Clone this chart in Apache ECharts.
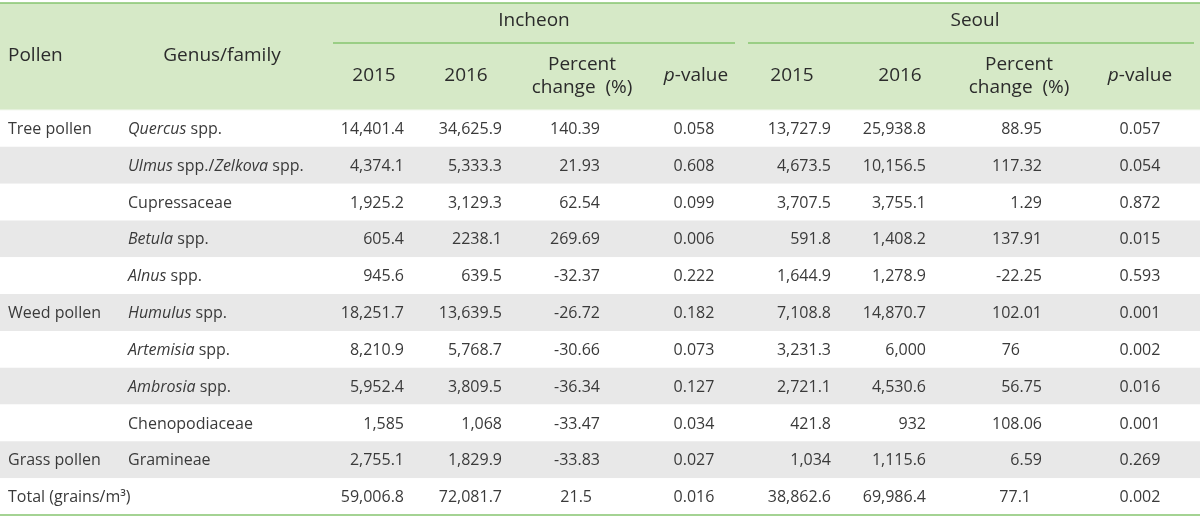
<!DOCTYPE html>
<html><head><meta charset="utf-8">
<script src="https://cdn.jsdelivr.net/npm/echarts@6/dist/echarts.min.js"></script>
<style>html,body{margin:0;padding:0;background:#fff}#c{width:1200px;height:519px}</style>
</head><body><div id="c"></div>
<script>
// ---- data ----
const pollenGroups = ['Tree pollen','','','','','Weed pollen','','','','Grass pollen','Total (grains/m³)'];
const genusFamily = ['{i|Quercus} spp.','{i|Ulmus} spp./{i|Zelkova} spp.','Cupressaceae','{i|Betula} spp.','{i|Alnus} spp.','{i|Humulus} spp.','{i|Artemisia} spp.','{i|Ambrosia} spp.','Chenopodiaceae','Gramineae',''];
const incheon2015 = ['14,401.4','4,374.1','1,925.2','605.4','945.6','18,251.7','8,210.9','5,952.4','1,585','2,755.1','59,006.8'];
const incheon2016 = ['34,625.9','5,333.3','3,129.3','2238.1','639.5','13,639.5','5,768.7','3,809.5','1,068','1,829.9','72,081.7'];
const incheonPct = ['140.39','21.93','62.54','269.69','-32.37','-26.72','-30.66','-36.34','-33.47','-33.83','21.5'];
const incheonP = ['0.058','0.608','0.099','0.006','0.222','0.182','0.073','0.127','0.034','0.027','0.016'];
const seoul2015 = ['13,727.9','4,673.5','3,707.5','591.8','1,644.9','7,108.8','3,231.3','2,721.1','421.8','1,034','38,862.6'];
const seoul2016 = ['25,938.8','10,156.5','3,755.1','1,408.2','1,278.9','14,870.7','6,000','4,530.6','932','1,115.6','69,986.4'];
const seoulPct = ['88.95','117.32','1.29','137.91','-22.25','102.01','76','56.75','108.06','6.59','77.1'];
const seoulP = ['0.057','0.054','0.872','0.015','0.593','0.001','0.002','0.016','0.001','0.269','0.002'];
const cities = ['Incheon','Seoul'];
const subHeaders = ['2015','2016','Percent\nchange  (%)','{i|p}-value'];
const leftHeaders = ['Pollen','Genus/family'];

// ---- layout (pixels) ----
const W = 1200, H = 519;
const headerTop = 3, headerBottom = 110, tableBottom = 515;
const textFont = '"Open Sans", sans-serif';
const numFont = '"Open Sans", sans-serif';
const columns = [
  {src: pollenGroups, x: 8, align: 'left', kind: 'text'},
  {src: genusFamily, x: 128, align: 'left', kind: 'text'},
  {src: incheon2015, x: 404, align: 'right'},
  {src: incheon2016, x: 502, align: 'right'},
  {src: incheonPct, x: 600, align: 'right'},
  {src: incheonP, x: 694, align: 'center'},
  {src: seoul2015, x: 831, align: 'right'},
  {src: seoul2016, x: 926, align: 'right'},
  {src: seoulPct, x: 1042, align: 'right'},
  {src: seoulP, x: 1140, align: 'center'}
];
// a few cells in the source are set with trailing space
const cellPad = {'10,4': 8, '6,8': 22, '10,8': 11};
const cityX = [534, 975];
const cityLine = [[333, 735], [748, 1194]];
const subX = [[374, 466, 582, 696], [792, 900, 1019, 1140]];
const leftHeaderX = [8, 222];
const leftHeaderAlign = ['left', 'center'];

const rowIdx = pollenGroups.map((_, i) => i);
const cellData = [];
columns.forEach((c, ci) => c.src.forEach((_, ri) => cellData.push([ci, ri])));

const headerColor = '#d6e9c7';
const greenLine = '#86c46f';
const grayRow = '#e8e8e8';
const txt = '#2b2b2b';
const bodyTxt = '#3a3a3a';

const graphics = [
  {type: 'rect', shape: {x: 0, y: headerTop, width: W, height: headerBottom - headerTop}, style: {fill: headerColor}, silent: true, z: 0},
  {type: 'line', shape: {x1: 0, y1: headerTop, x2: W, y2: headerTop}, style: {stroke: greenLine, lineWidth: 1.5}, z: 5},
  {type: 'line', shape: {x1: 0, y1: tableBottom, x2: W, y2: tableBottom}, style: {stroke: greenLine, lineWidth: 1.5}, z: 5},
  {type: 'line', shape: {x1: 0, y1: headerBottom, x2: W, y2: headerBottom}, style: {stroke: '#f4f8f0', lineWidth: 1}, z: 5}
];
leftHeaders.forEach((t, i) => graphics.push({type: 'text', x: leftHeaderX[i], y: 56,
  style: {text: t, align: leftHeaderAlign[i], verticalAlign: 'middle', font: '19px ' + textFont, fill: txt}, z: 6}));
cities.forEach((c, i) => {
  graphics.push({type: 'text', x: cityX[i], y: 21,
    style: {text: c, align: 'center', verticalAlign: 'middle', font: '19px ' + textFont, fill: txt}, z: 6});
  graphics.push({type: 'line', shape: {x1: cityLine[i][0], y1: 43, x2: cityLine[i][1], y2: 43},
    style: {stroke: greenLine, lineWidth: 1.5}, z: 6});
  subHeaders.forEach((s, j) => graphics.push({type: 'text', x: subX[i][j], y: 76,
    style: {text: s, align: 'center', verticalAlign: 'middle', fontSize: 19, fontFamily: textFont, fill: txt, lineHeight: 23,
      rich: {i: {fontStyle: 'italic', fontSize: 19, fontFamily: textFont, fill: txt}}}, z: 6}));
});

const chart = echarts.init(document.getElementById('c'), null, {renderer: 'canvas'});
chart.setOption({
  animation: false,
  backgroundColor: '#fff',
  grid: {left: 0, right: 0, top: headerBottom, bottom: H - tableBottom},
  xAxis: {type: 'value', min: 0, max: W, show: false},
  yAxis: {type: 'category', data: rowIdx, inverse: true, show: false},
  graphic: graphics,
  series: [
    {
      type: 'bar', barWidth: '100%', silent: true, z: 1,
      data: rowIdx.map(i => ({value: W, itemStyle: {color: i % 2 === 1 ? grayRow : '#ffffff'}}))
    },
    {
      type: 'custom', z: 3, silent: true,
      data: cellData,
      renderItem: function (params, api) {
        const ci = api.value(0), ri = api.value(1);
        const col = columns[ci];
        const text = col.src[ri];
        if (!text) return null;
        const pad = cellPad[ri + ',' + ci] || 0;
        const p = api.coord([col.x - pad, ri]);
        return {
          type: 'text',
          x: p[0], y: p[1] + 1,
          style: {
            text: text, align: col.align, verticalAlign: 'middle',
            fontSize: 16, fontFamily: col.kind === 'text' ? textFont : numFont, fontWeight: 400,
            fill: bodyTxt,
            rich: {i: {fontStyle: 'italic', fontSize: 16, fontFamily: textFont, fill: bodyTxt}}
          }
        };
      }
    }
  ]
});
</script></body></html>
